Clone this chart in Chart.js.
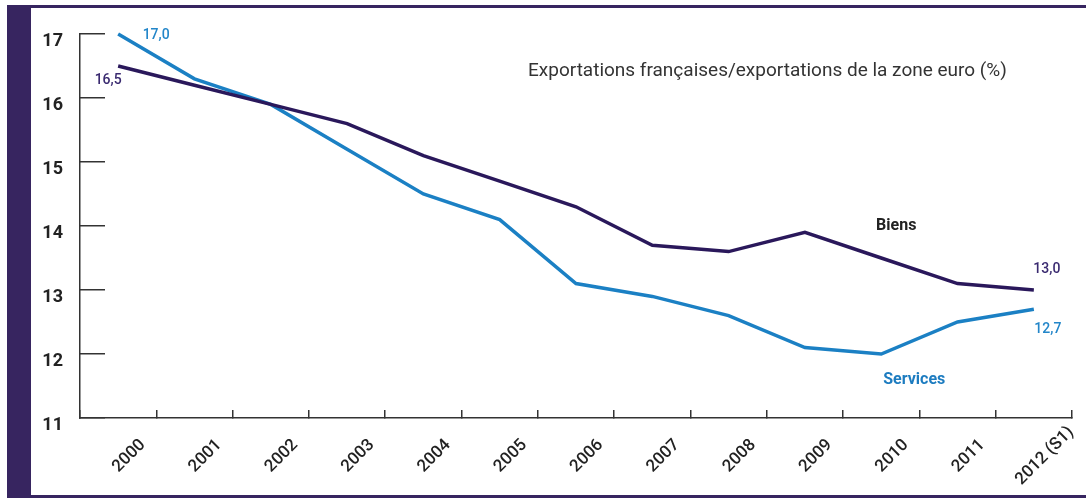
<!DOCTYPE html>
<html>
<head>
<meta charset="utf-8">
<script src="https://cdn.jsdelivr.net/npm/chart.js@4.4.1/dist/chart.umd.min.js"></script>
<style>
  html, body { margin: 0; padding: 0; background: #ffffff; width: 1086px; height: 498px; overflow: hidden; }
  #frame { position: absolute; left: 7px; top: 5px; width: 1055px; height: 487px;
           border-left: 24px solid #372560; border-top: 3px solid #372560; border-bottom: 3px solid #372560; }
  #c { position: absolute; left: 0; top: 0; }
</style>
</head>
<body>
<div id="frame"></div>
<canvas id="c" width="1086" height="498"></canvas>
<script>
const categories = ['2000','2001','2002','2003','2004','2005','2006','2007','2008','2009','2010','2011','2012 (S1)'];
const biens    = [16.5, 16.2, 15.9, 15.6, 15.1, 14.7, 14.3, 13.7, 13.6, 13.9, 13.5, 13.1, 13.0];
const services = [17.0, 16.3, 15.9, 15.2, 14.5, 14.1, 13.1, 12.9, 12.6, 12.1, 12.0, 12.5, 12.7];
const yTicks   = [11, 12, 13, 14, 15, 16, 17];
const chartTitle = 'Exportations françaises/exportations de la zone euro (%)';
const seriesNames = ['Biens', 'Services'];

const BIENS_COLOR = '#2a185b';
const SERV_COLOR = '#1b80c4';
const AXIS_COLOR = '#333333';
const FONT = 'Roboto, "Liberation Sans", sans-serif';

const fmt = v => v.toFixed(1).replace('.', ',');

const annotate = {
  id: 'annotate',
  afterDraw(chart) {
    const ctx = chart.ctx;
    const xs = chart.scales.x;
    const mb = chart.getDatasetMeta(0).data;
    const ms = chart.getDatasetMeta(1).data;
    const last = mb.length - 1;
    ctx.save();

    // title
    ctx.font = '19px ' + FONT;
    ctx.fillStyle = '#333333';
    ctx.textAlign = 'left';
    ctx.textBaseline = 'alphabetic';
    ctx.fillText(chartTitle, 528, 76);

    // x labels (rotated, centred)
    ctx.font = '500 17px ' + FONT;
    ctx.fillStyle = '#222222';
    ctx.textAlign = 'center';
    ctx.textBaseline = 'middle';
    categories.forEach((lab, i) => {
      const x = xs.getPixelForValue(i) + 11;
      ctx.save();
      ctx.translate(x, 456);
      ctx.rotate(-Math.PI / 4);
      ctx.fillText(lab, 0, 0);
      ctx.restore();
    });

    // value labels
    ctx.font = '500 14px ' + FONT;
    ctx.textAlign = 'center';
    ctx.textBaseline = 'middle';
    ctx.fillStyle = '#3a2a70';
    ctx.fillText(fmt(biens[0]), mb[0].x - 10, mb[0].y + 14);
    ctx.fillText(fmt(biens[last]), mb[last].x + 13, mb[last].y - 21);
    ctx.fillStyle = '#2386c9';
    ctx.fillText(fmt(services[0]), ms[0].x + 38, ms[0].y + 1);
    ctx.fillText(fmt(services[last]), ms[last].x + 14, ms[last].y + 20);

    // series names
    ctx.font = 'bold 16px ' + FONT;
    ctx.fillStyle = '#222222';
    ctx.fillText(seriesNames[0], mb[10].x + 15, mb[10].y - 32);
    ctx.fillStyle = '#1d7cc0';
    ctx.fillText(seriesNames[1], ms[10].x + 33, ms[10].y + 26);
    ctx.restore();
  }
};

new Chart(document.getElementById('c'), {
  type: 'line',
  data: {
    labels: categories,
    datasets: [
      { label: seriesNames[0], data: biens, borderColor: BIENS_COLOR, borderWidth: 3.5, pointRadius: 0, tension: 0, fill: false, clip: false },
      { label: seriesNames[1], data: services, borderColor: SERV_COLOR, borderWidth: 3.5, pointRadius: 0, tension: 0, fill: false, clip: false }
    ]
  },
  options: {
    responsive: false,
    devicePixelRatio: 1,
    animation: false,
    events: [],
    layout: { padding: { left: 30, right: 14, top: 34, bottom: 0 } },
    plugins: { legend: { display: false }, tooltip: { enabled: false }, title: { display: false } },
    scales: {
      x: {
        type: 'category',
        offset: true,
        grid: { offset: true, drawOnChartArea: false, drawTicks: true, tickLength: -8, color: AXIS_COLOR, lineWidth: 1.5 },
        border: { display: true, color: AXIS_COLOR, width: 1.5 },
        ticks: { display: false },
        afterFit: (axis) => { axis.height = 80; axis.paddingLeft = 0; axis.paddingRight = 0; }
      },
      y: {
        min: yTicks[0],
        max: yTicks[yTicks.length - 1],
        afterBuildTicks: (axis) => { axis.ticks = yTicks.map(v => ({ value: v })); },
        grid: { drawOnChartArea: false, drawTicks: true, tickLength: -25, color: AXIS_COLOR, lineWidth: 1.5 },
        border: { display: true, color: AXIS_COLOR, width: 1.5 },
        ticks: {
          font: { family: FONT, size: 18, weight: 'bold' },
          color: '#222222',
          padding: 42,
          labelOffset: 7,
          callback: (v) => String(v)
        },
        afterFit: (axis) => { axis.width = 50; axis.paddingTop = 0; axis.paddingBottom = 0; }
      }
    }
  },
  plugins: [annotate]
});
</script>
</body>
</html>
